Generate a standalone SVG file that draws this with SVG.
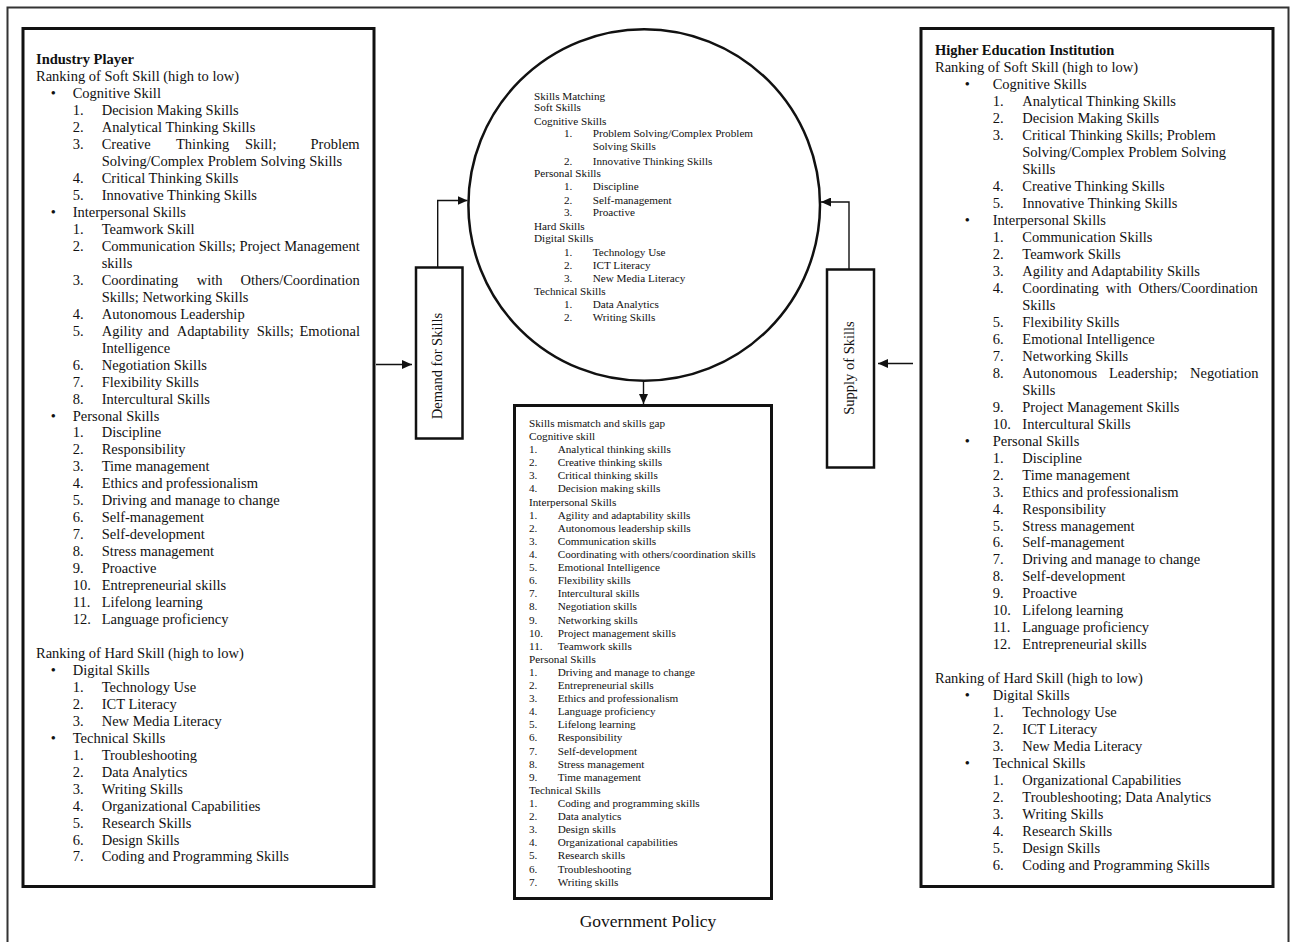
<svg xmlns="http://www.w3.org/2000/svg" width="1290" height="942" viewBox="0 0 1290 942">
<style>
.t{font-family:"Liberation Serif","Times New Roman",serif;font-size:14.5px;fill:#111}
.s{font-family:"Liberation Serif","Times New Roman",serif;font-size:11.2px;fill:#111}
.b{font-weight:bold}
.box{fill:#fff;stroke:#111;stroke-width:3}
.thin{fill:#fff;stroke:#111;stroke-width:2.5}
.conn{fill:none;stroke:#111;stroke-width:1.4}
</style>
<defs>
<marker id="ah" markerUnits="userSpaceOnUse" markerWidth="11" markerHeight="9" refX="10" refY="4.5" orient="auto">
<path d="M0,0 L10,4.5 L0,9 z" fill="#111"/>
</marker>
</defs>
<rect width="1290" height="942" fill="#fff"/>
<rect id="frame" x="7.5" y="7.5" width="1281" height="960" fill="none" stroke="#333" stroke-width="2"/>

<g id="industry-player">
<rect class="box" x="23" y="28.5" width="351" height="858"/>
<text class="t b" x="36" y="64.3">Industry Player</text>
<text class="t" x="36" y="81.3">Ranking of Soft Skill (high to low)</text>
<text class="t" y="98.2"><tspan x="50.8">•</tspan><tspan x="72.7">Cognitive Skill</tspan></text>
<text class="t" y="115.2"><tspan x="72.7">1.</tspan><tspan x="101.7">Decision Making Skills</tspan></text>
<text class="t" y="132.1"><tspan x="72.7">2.</tspan><tspan x="101.7">Analytical Thinking Skills</tspan></text>
<text class="t" y="149.1"><tspan x="72.7">3.</tspan><tspan x="101.7">Creative</tspan><tspan x="176">Thinking</tspan><tspan x="245">Skill;</tspan><tspan x="310.5">Problem</tspan></text>
<text class="t" x="101.7" y="166.1">Solving/Complex Problem Solving Skills</text>
<text class="t" y="183.0"><tspan x="72.7">4.</tspan><tspan x="101.7">Critical Thinking Skills</tspan></text>
<text class="t" y="200.0"><tspan x="72.7">5.</tspan><tspan x="101.7">Innovative Thinking Skills</tspan></text>
<text class="t" y="216.9"><tspan x="50.8">•</tspan><tspan x="72.7">Interpersonal Skills</tspan></text>
<text class="t" y="233.9"><tspan x="72.7">1.</tspan><tspan x="101.7">Teamwork Skill</tspan></text>
<text class="t" y="250.9"><tspan x="72.7">2.</tspan><tspan x="101.7">Communication Skills; Project Management</tspan></text>
<text class="t" x="101.7" y="267.8">skills</text>
<text class="t" y="284.8"><tspan x="72.7">3.</tspan><tspan x="101.7">Coordinating</tspan><tspan x="196.7">with</tspan><tspan x="240.5">Others/Coordination</tspan></text>
<text class="t" x="101.7" y="301.7">Skills; Networking Skills</text>
<text class="t" y="318.7"><tspan x="72.7">4.</tspan><tspan x="101.7">Autonomous Leadership</tspan></text>
<text class="t" y="335.7"><tspan x="72.7">5.</tspan><tspan x="101.7">Agility</tspan><tspan x="148">and</tspan><tspan x="176.7">Adaptability</tspan><tspan x="256.7">Skills;</tspan><tspan x="299.5">Emotional</tspan></text>
<text class="t" x="101.7" y="352.6">Intelligence</text>
<text class="t" y="369.6"><tspan x="72.7">6.</tspan><tspan x="101.7">Negotiation Skills</tspan></text>
<text class="t" y="386.5"><tspan x="72.7">7.</tspan><tspan x="101.7">Flexibility Skills</tspan></text>
<text class="t" y="403.5"><tspan x="72.7">8.</tspan><tspan x="101.7">Intercultural Skills</tspan></text>
<text class="t" y="420.5"><tspan x="50.8">•</tspan><tspan x="72.7">Personal Skills</tspan></text>
<text class="t" y="437.4"><tspan x="72.7">1.</tspan><tspan x="101.7">Discipline</tspan></text>
<text class="t" y="454.4"><tspan x="72.7">2.</tspan><tspan x="101.7">Responsibility</tspan></text>
<text class="t" y="471.3"><tspan x="72.7">3.</tspan><tspan x="101.7">Time management</tspan></text>
<text class="t" y="488.3"><tspan x="72.7">4.</tspan><tspan x="101.7">Ethics and professionalism</tspan></text>
<text class="t" y="505.3"><tspan x="72.7">5.</tspan><tspan x="101.7">Driving and manage to change</tspan></text>
<text class="t" y="522.2"><tspan x="72.7">6.</tspan><tspan x="101.7">Self-management</tspan></text>
<text class="t" y="539.2"><tspan x="72.7">7.</tspan><tspan x="101.7">Self-development</tspan></text>
<text class="t" y="556.1"><tspan x="72.7">8.</tspan><tspan x="101.7">Stress management</tspan></text>
<text class="t" y="573.1"><tspan x="72.7">9.</tspan><tspan x="101.7">Proactive</tspan></text>
<text class="t" y="590.1"><tspan x="72.7">10.</tspan><tspan x="101.7">Entrepreneurial skills</tspan></text>
<text class="t" y="607.0"><tspan x="72.7">11.</tspan><tspan x="101.7">Lifelong learning</tspan></text>
<text class="t" y="624.0"><tspan x="72.7">12.</tspan><tspan x="101.7">Language proficiency</tspan></text>
<text class="t" x="36" y="657.9">Ranking of Hard Skill (high to low)</text>
<text class="t" y="674.9"><tspan x="50.8">•</tspan><tspan x="72.7">Digital Skills</tspan></text>
<text class="t" y="691.8"><tspan x="72.7">1.</tspan><tspan x="101.7">Technology Use</tspan></text>
<text class="t" y="708.8"><tspan x="72.7">2.</tspan><tspan x="101.7">ICT Literacy</tspan></text>
<text class="t" y="725.7"><tspan x="72.7">3.</tspan><tspan x="101.7">New Media Literacy</tspan></text>
<text class="t" y="742.7"><tspan x="50.8">•</tspan><tspan x="72.7">Technical Skills</tspan></text>
<text class="t" y="759.7"><tspan x="72.7">1.</tspan><tspan x="101.7">Troubleshooting</tspan></text>
<text class="t" y="776.6"><tspan x="72.7">2.</tspan><tspan x="101.7">Data Analytics</tspan></text>
<text class="t" y="793.6"><tspan x="72.7">3.</tspan><tspan x="101.7">Writing Skills</tspan></text>
<text class="t" y="810.5"><tspan x="72.7">4.</tspan><tspan x="101.7">Organizational Capabilities</tspan></text>
<text class="t" y="827.5"><tspan x="72.7">5.</tspan><tspan x="101.7">Research Skills</tspan></text>
<text class="t" y="844.5"><tspan x="72.7">6.</tspan><tspan x="101.7">Design Skills</tspan></text>
<text class="t" y="861.4"><tspan x="72.7">7.</tspan><tspan x="101.7">Coding and Programming Skills</tspan></text>
</g>

<g id="higher-education">
<rect class="box" x="921" y="28.5" width="352" height="858"/>
<text class="t b" x="935" y="55.3">Higher Education Institution</text>
<text class="t" x="935" y="72.3">Ranking of Soft Skill (high to low)</text>
<text class="t" y="89.2"><tspan x="964.8">•</tspan><tspan x="992.7">Cognitive Skills</tspan></text>
<text class="t" y="106.2"><tspan x="992.7">1.</tspan><tspan x="1022.3">Analytical Thinking Skills</tspan></text>
<text class="t" y="123.2"><tspan x="992.7">2.</tspan><tspan x="1022.3">Decision Making Skills</tspan></text>
<text class="t" y="140.2"><tspan x="992.7">3.</tspan><tspan x="1022.3">Critical Thinking Skills; Problem</tspan></text>
<text class="t" x="1022.3" y="157.1">Solving/Complex Problem Solving</text>
<text class="t" x="1022.3" y="174.1">Skills</text>
<text class="t" y="191.1"><tspan x="992.7">4.</tspan><tspan x="1022.3">Creative Thinking Skills</tspan></text>
<text class="t" y="208.0"><tspan x="992.7">5.</tspan><tspan x="1022.3">Innovative Thinking Skills</tspan></text>
<text class="t" y="225.0"><tspan x="964.8">•</tspan><tspan x="992.7">Interpersonal Skills</tspan></text>
<text class="t" y="242.0"><tspan x="992.7">1.</tspan><tspan x="1022.3">Communication Skills</tspan></text>
<text class="t" y="258.9"><tspan x="992.7">2.</tspan><tspan x="1022.3">Teamwork Skills</tspan></text>
<text class="t" y="275.9"><tspan x="992.7">3.</tspan><tspan x="1022.3">Agility and Adaptability Skills</tspan></text>
<text class="t" y="292.9"><tspan x="992.7">4.</tspan><tspan x="1022.3">Coordinating</tspan><tspan x="1105.8">with</tspan><tspan x="1138.5">Others/Coordination</tspan></text>
<text class="t" x="1022.3" y="309.9">Skills</text>
<text class="t" y="326.8"><tspan x="992.7">5.</tspan><tspan x="1022.3">Flexibility Skills</tspan></text>
<text class="t" y="343.8"><tspan x="992.7">6.</tspan><tspan x="1022.3">Emotional Intelligence</tspan></text>
<text class="t" y="360.8"><tspan x="992.7">7.</tspan><tspan x="1022.3">Networking Skills</tspan></text>
<text class="t" y="377.7"><tspan x="992.7">8.</tspan><tspan x="1022.3">Autonomous</tspan><tspan x="1109">Leadership;</tspan><tspan x="1190">Negotiation</tspan></text>
<text class="t" x="1022.3" y="394.7">Skills</text>
<text class="t" y="411.7"><tspan x="992.7">9.</tspan><tspan x="1022.3">Project Management Skills</tspan></text>
<text class="t" y="428.6"><tspan x="992.7">10.</tspan><tspan x="1022.3">Intercultural Skills</tspan></text>
<text class="t" y="445.6"><tspan x="964.8">•</tspan><tspan x="992.7">Personal Skills</tspan></text>
<text class="t" y="462.6"><tspan x="992.7">1.</tspan><tspan x="1022.3">Discipline</tspan></text>
<text class="t" y="479.6"><tspan x="992.7">2.</tspan><tspan x="1022.3">Time management</tspan></text>
<text class="t" y="496.5"><tspan x="992.7">3.</tspan><tspan x="1022.3">Ethics and professionalism</tspan></text>
<text class="t" y="513.5"><tspan x="992.7">4.</tspan><tspan x="1022.3">Responsibility</tspan></text>
<text class="t" y="530.5"><tspan x="992.7">5.</tspan><tspan x="1022.3">Stress management</tspan></text>
<text class="t" y="547.4"><tspan x="992.7">6.</tspan><tspan x="1022.3">Self-management</tspan></text>
<text class="t" y="564.4"><tspan x="992.7">7.</tspan><tspan x="1022.3">Driving and manage to change</tspan></text>
<text class="t" y="581.4"><tspan x="992.7">8.</tspan><tspan x="1022.3">Self-development</tspan></text>
<text class="t" y="598.3"><tspan x="992.7">9.</tspan><tspan x="1022.3">Proactive</tspan></text>
<text class="t" y="615.3"><tspan x="992.7">10.</tspan><tspan x="1022.3">Lifelong learning</tspan></text>
<text class="t" y="632.3"><tspan x="992.7">11.</tspan><tspan x="1022.3">Language proficiency</tspan></text>
<text class="t" y="649.3"><tspan x="992.7">12.</tspan><tspan x="1022.3">Entrepreneurial skills</tspan></text>
<text class="t" x="935" y="683.2">Ranking of Hard Skill (high to low)</text>
<text class="t" y="700.2"><tspan x="964.8">•</tspan><tspan x="992.7">Digital Skills</tspan></text>
<text class="t" y="717.1"><tspan x="992.7">1.</tspan><tspan x="1022.3">Technology Use</tspan></text>
<text class="t" y="734.1"><tspan x="992.7">2.</tspan><tspan x="1022.3">ICT Literacy</tspan></text>
<text class="t" y="751.1"><tspan x="992.7">3.</tspan><tspan x="1022.3">New Media Literacy</tspan></text>
<text class="t" y="768.0"><tspan x="964.8">•</tspan><tspan x="992.7">Technical Skills</tspan></text>
<text class="t" y="785.0"><tspan x="992.7">1.</tspan><tspan x="1022.3">Organizational Capabilities</tspan></text>
<text class="t" y="802.0"><tspan x="992.7">2.</tspan><tspan x="1022.3">Troubleshooting; Data Analytics</tspan></text>
<text class="t" y="819.0"><tspan x="992.7">3.</tspan><tspan x="1022.3">Writing Skills</tspan></text>
<text class="t" y="835.9"><tspan x="992.7">4.</tspan><tspan x="1022.3">Research Skills</tspan></text>
<text class="t" y="852.9"><tspan x="992.7">5.</tspan><tspan x="1022.3">Design Skills</tspan></text>
<text class="t" y="869.9"><tspan x="992.7">6.</tspan><tspan x="1022.3">Coding and Programming Skills</tspan></text>
</g>

<g id="skills-matching">
<circle class="thin" cx="644.2" cy="205" r="175.8"/>
<text class="s" x="534" y="99.5">Skills Matching</text>
<text class="s" x="534" y="111.2">Soft Skills</text>
<text class="s" x="534" y="124.5">Cognitive Skills</text>
<text class="s" y="136.8"><tspan x="564">1.</tspan><tspan x="592.7">Problem Solving/Complex Problem</tspan></text>
<text class="s" x="592.7" y="150.2">Solving Skills</text>
<text class="s" y="164.5"><tspan x="564">2.</tspan><tspan x="592.7">Innovative Thinking Skills</tspan></text>
<text class="s" x="534" y="176.8">Personal Skills</text>
<text class="s" y="190.2"><tspan x="564">1.</tspan><tspan x="592.7">Discipline</tspan></text>
<text class="s" y="203.5"><tspan x="564">2.</tspan><tspan x="592.7">Self-management</tspan></text>
<text class="s" y="215.8"><tspan x="564">3.</tspan><tspan x="592.7">Proactive</tspan></text>
<text class="s" x="534" y="230.2">Hard Skills</text>
<text class="s" x="534" y="242.2">Digital Skills</text>
<text class="s" y="255.8"><tspan x="564">1.</tspan><tspan x="592.7">Technology Use</tspan></text>
<text class="s" y="269.2"><tspan x="564">2.</tspan><tspan x="592.7">ICT Literacy</tspan></text>
<text class="s" y="281.8"><tspan x="564">3.</tspan><tspan x="592.7">New Media Literacy</tspan></text>
<text class="s" x="534" y="295.2">Technical Skills</text>
<text class="s" y="307.8"><tspan x="564">1.</tspan><tspan x="592.7">Data Analytics</tspan></text>
<text class="s" y="321.2"><tspan x="564">2.</tspan><tspan x="592.7">Writing Skills</tspan></text>
</g>

<g id="demand">
<rect class="thin" x="416" y="267.5" width="46.5" height="171"/>
<text class="t" transform="translate(442,366) rotate(-90)" text-anchor="middle">Demand for Skills</text>
</g>

<g id="supply">
<rect class="thin" x="827" y="269.5" width="47" height="198"/>
<text class="t" transform="translate(853.5,368) rotate(-90)" text-anchor="middle">Supply of Skills</text>
</g>

<g id="skills-gap">
<rect class="box" x="514.5" y="405.5" width="257" height="493"/>
<text class="s" x="529" y="426.8">Skills mismatch and skills gap</text>
<text class="s" x="529" y="439.9">Cognitive skill</text>
<text class="s" y="453.0"><tspan x="529">1.</tspan><tspan x="557.7">Analytical thinking skills</tspan></text>
<text class="s" y="466.1"><tspan x="529">2.</tspan><tspan x="557.7">Creative thinking skills</tspan></text>
<text class="s" y="479.2"><tspan x="529">3.</tspan><tspan x="557.7">Critical thinking skills</tspan></text>
<text class="s" y="492.4"><tspan x="529">4.</tspan><tspan x="557.7">Decision making skills</tspan></text>
<text class="s" x="529" y="505.5">Interpersonal Skills</text>
<text class="s" y="518.6"><tspan x="529">1.</tspan><tspan x="557.7">Agility and adaptability skills</tspan></text>
<text class="s" y="531.7"><tspan x="529">2.</tspan><tspan x="557.7">Autonomous leadership skills</tspan></text>
<text class="s" y="544.8"><tspan x="529">3.</tspan><tspan x="557.7">Communication skills</tspan></text>
<text class="s" y="557.9"><tspan x="529">4.</tspan><tspan x="557.7">Coordinating with others/coordination skills</tspan></text>
<text class="s" y="571.0"><tspan x="529">5.</tspan><tspan x="557.7">Emotional Intelligence</tspan></text>
<text class="s" y="584.1"><tspan x="529">6.</tspan><tspan x="557.7">Flexibility skills</tspan></text>
<text class="s" y="597.2"><tspan x="529">7.</tspan><tspan x="557.7">Intercultural skills</tspan></text>
<text class="s" y="610.3"><tspan x="529">8.</tspan><tspan x="557.7">Negotiation skills</tspan></text>
<text class="s" y="623.5"><tspan x="529">9.</tspan><tspan x="557.7">Networking skills</tspan></text>
<text class="s" y="636.6"><tspan x="529">10.</tspan><tspan x="557.7">Project management skills</tspan></text>
<text class="s" y="649.7"><tspan x="529">11.</tspan><tspan x="557.7">Teamwork skills</tspan></text>
<text class="s" x="529" y="662.8">Personal Skills</text>
<text class="s" y="675.9"><tspan x="529">1.</tspan><tspan x="557.7">Driving and manage to change</tspan></text>
<text class="s" y="689.0"><tspan x="529">2.</tspan><tspan x="557.7">Entrepreneurial skills</tspan></text>
<text class="s" y="702.1"><tspan x="529">3.</tspan><tspan x="557.7">Ethics and professionalism</tspan></text>
<text class="s" y="715.2"><tspan x="529">4.</tspan><tspan x="557.7">Language proficiency</tspan></text>
<text class="s" y="728.3"><tspan x="529">5.</tspan><tspan x="557.7">Lifelong learning</tspan></text>
<text class="s" y="741.4"><tspan x="529">6.</tspan><tspan x="557.7">Responsibility</tspan></text>
<text class="s" y="754.6"><tspan x="529">7.</tspan><tspan x="557.7">Self-development</tspan></text>
<text class="s" y="767.7"><tspan x="529">8.</tspan><tspan x="557.7">Stress management</tspan></text>
<text class="s" y="780.8"><tspan x="529">9.</tspan><tspan x="557.7">Time management</tspan></text>
<text class="s" x="529" y="793.9">Technical Skills</text>
<text class="s" y="807.0"><tspan x="529">1.</tspan><tspan x="557.7">Coding and programming skills</tspan></text>
<text class="s" y="820.1"><tspan x="529">2.</tspan><tspan x="557.7">Data analytics</tspan></text>
<text class="s" y="833.2"><tspan x="529">3.</tspan><tspan x="557.7">Design skills</tspan></text>
<text class="s" y="846.3"><tspan x="529">4.</tspan><tspan x="557.7">Organizational capabilities</tspan></text>
<text class="s" y="859.4"><tspan x="529">5.</tspan><tspan x="557.7">Research skills</tspan></text>
<text class="s" y="872.5"><tspan x="529">6.</tspan><tspan x="557.7">Troubleshooting</tspan></text>
<text class="s" y="885.7"><tspan x="529">7.</tspan><tspan x="557.7">Writing skills</tspan></text>
</g>

<g id="government-policy">
<text class="t" x="648" y="927" text-anchor="middle" style="font-size:17.5px">Government Policy</text>
</g>

<g id="connectors">
<path class="conn" d="M376,364.5 H412" marker-end="url(#ah)"/>
<path class="conn" d="M437.7,267 V200.5 H467.5" marker-end="url(#ah)"/>
<path class="conn" d="M913,363.5 H878" marker-end="url(#ah)"/>
<path class="conn" d="M849,269 V202 H821" marker-end="url(#ah)"/>
<path class="conn" d="M643.5,381 V404" marker-end="url(#ah)"/>
</g>
</svg>
